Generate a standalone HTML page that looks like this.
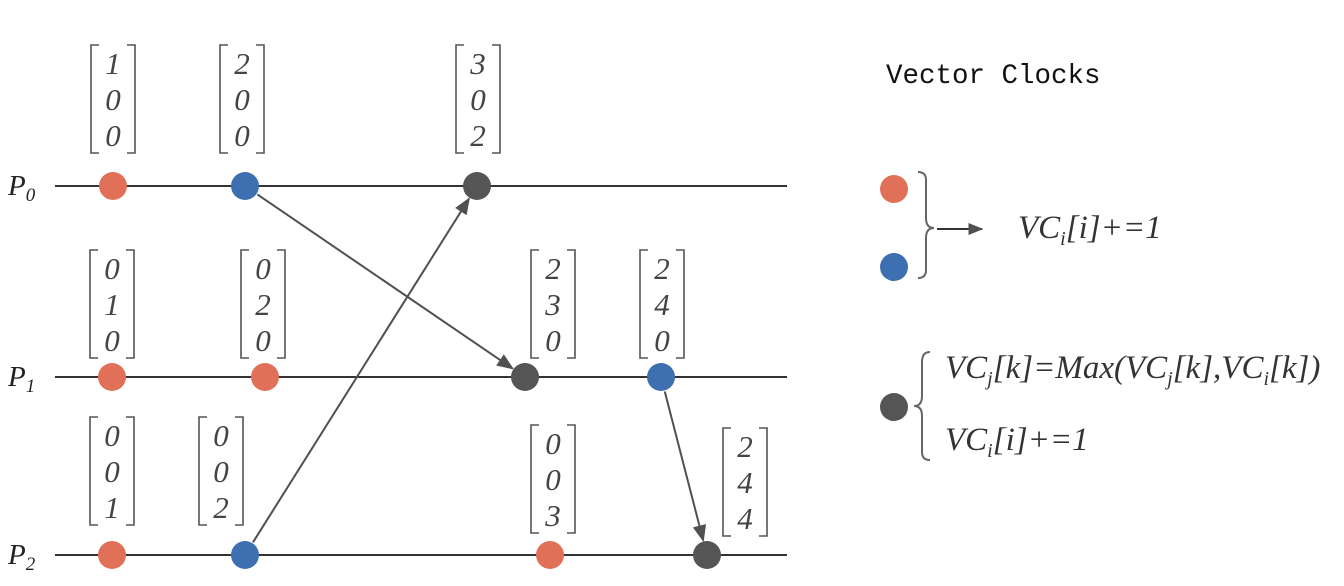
<!DOCTYPE html>
<html><head><meta charset="utf-8"><style>
html,body{margin:0;padding:0;background:#fff;}
svg{display:block;}
.m{font-family:"Liberation Serif",serif;font-style:italic;font-size:31px;fill:#444;}
.l{font-family:"Liberation Serif",serif;font-style:italic;font-size:33px;fill:#333;}
</style></head><body>
<svg id="s" width="1344" height="586" viewBox="0 0 1344 586">
<defs><marker id="ah" viewBox="0 0 10 10" refX="9" refY="5" markerWidth="17" markerHeight="17" markerUnits="userSpaceOnUse" orient="auto"><path d="M0,1 L10,5 L0,9 z" fill="#505050"/></marker>
<marker id="ah2" viewBox="0 0 10 10" refX="9" refY="5" markerWidth="15" markerHeight="15" markerUnits="userSpaceOnUse" orient="auto"><path d="M0,1 L10,5 L0,9 z" fill="#505050"/></marker></defs>
<text x="886" y="83" font-family="Liberation Mono,monospace" font-size="27.5" fill="#111">Vector Clocks</text>
<g>
<circle cx="894" cy="189" r="14" fill="#E07158"/>
<circle cx="894" cy="267" r="14" fill="#3E6FB0"/>
<path d="M918,172 Q926,172 926,180 L926,218 Q926,228 934,228 Q926,228 926,238 L926,270 Q926,278 918,278" fill="none" stroke="#666" stroke-width="2"/>
<line x1="937" y1="229" x2="982" y2="229" stroke="#333" stroke-width="2" marker-end="url(#ah2)"/>
<text x="1018" y="238" class="l">VC<tspan font-size="20" dy="7">i</tspan><tspan dy="-7">[i]+=1</tspan></text>
</g>
<g>
<circle cx="894" cy="407" r="14" fill="#555"/>
<path d="M930,352 Q922,352 922,362 L922,396 Q922,406 914,406 Q922,406 922,416 L922,452 Q922,460 930,460" fill="none" stroke="#666" stroke-width="2"/>
<text x="945" y="378" class="l">VC<tspan font-size="20" dy="7">j</tspan><tspan dy="-7">[k]=Max(VC</tspan><tspan font-size="20" dy="7">j</tspan><tspan dy="-7">[k],VC</tspan><tspan font-size="20" dy="7">i</tspan><tspan dy="-7">[k])</tspan></text>
<text x="945" y="450" class="l">VC<tspan font-size="20" dy="7">i</tspan><tspan dy="-7">[i]+=1</tspan></text>
</g>
</svg>
<script>
const processNames = ["0","1","2"];
const processY = [186, 377, 555];
const eventProc = [0,0,0, 1,1,1,1, 2,2,2,2];
const eventX = [113,245,477, 112,265,525,661, 112,245,550,707];
const eventType = ["local","send","recv","local","local","recv","send","local","send","local","recv"];
const clocks = [[1,0,0],[2,0,0],[3,0,2],[0,1,0],[0,2,0],[2,3,0],[2,4,0],[0,0,1],[0,0,2],[0,0,3],[2,4,4]];
const vecX = [113,242,478, 112,263,553,662, 112,221,553,745];
const vecTop = [45,45,45, 250,250,250,250, 417,417,425,428];
const msgFrom = [1,8,6];
const msgTo = [5,2,10];
const colors = {local:"#E07158",send:"#3E6FB0",recv:"#555555"};
const NS="http://www.w3.org/2000/svg";
const s=document.getElementById('s');
function mk(t,a,p){const e=document.createElementNS(NS,t);for(const k in a)e.setAttribute(k,a[k]);(p||s).appendChild(e);return e;}
processNames.forEach((n,i)=>{
  const y=processY[i];
  const l=mk('line',{x1:55,y1:y,x2:787,y2:y,stroke:'#333','stroke-width':2});
  
  
  const t=mk('text',{x:8,y:y+9,'font-family':'Liberation Serif,serif','font-style':'italic','font-size':29,fill:'#222'});
  
  
  t.innerHTML='P<tspan font-size="19" dy="6">'+n+'</tspan>';
});
msgFrom.forEach((f,i)=>{
  const tIdx=msgTo[i];
  const x1=eventX[f],y1=processY[eventProc[f]],x2=eventX[tIdx],y2=processY[eventProc[tIdx]];
  const dx=x2-x1,dy=y2-y1,d=Math.hypot(dx,dy);
  const l=mk('line',{x1:x1+dx/d*15,y1:y1+dy/d*15,x2:x2-dx/d*15,y2:y2-dy/d*15,stroke:'#505050','stroke-width':2,'marker-end':'url(#ah)'});
  
  
});
eventX.forEach((x,i)=>{
  const c=mk('circle',{cx:x,cy:processY[eventProc[i]],r:14,fill:colors[eventType[i]]});
  
  
  const g=mk('g',{});
  
  
  const cx=vecX[i],top=vecTop[i],bot=top+108;
  mk('path',{d:`M${cx-14},${top} L${cx-22},${top} L${cx-22},${bot} L${cx-14},${bot}`,fill:'none',stroke:'#555','stroke-width':1.6},g);
  mk('path',{d:`M${cx+14},${top} L${cx+22},${top} L${cx+22},${bot} L${cx+14},${bot}`,fill:'none',stroke:'#555','stroke-width':1.6},g);
  clocks[i].forEach((v,k)=>{
    const t=mk('text',{x:cx,y:top+29+k*36,'text-anchor':'middle',class:'m'},g);
    t.textContent=v;
  });
});
</script>
</body></html>
